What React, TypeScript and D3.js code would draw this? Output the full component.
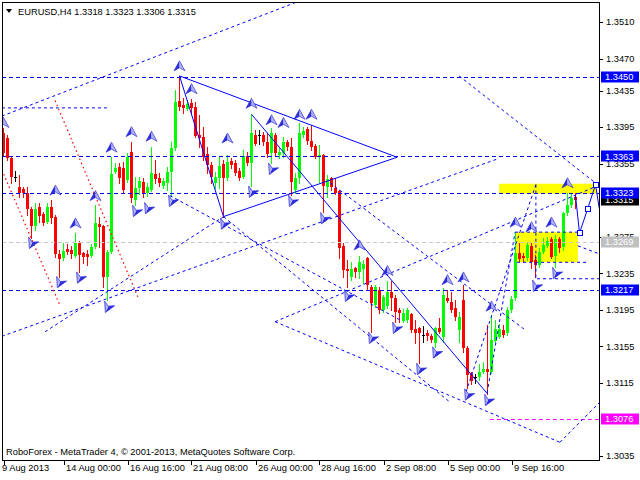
import React from "react";
import * as d3 from "d3";

// ---- OHLC data (EURUSD H4) ----
const OPEN = [1.3388,1.3383,1.3361,1.3340,1.3329,1.3327,1.3323,1.3305,1.3287,1.3307,
1.3300,1.3291,1.3308,1.3297,1.3256,1.3252,1.3262,1.3260,1.3254,1.3268,
1.3257,1.3256,1.3254,1.3264,1.3289,1.3287,1.3231,1.3258,1.3346,1.3351,
1.3350,1.3337,1.3368,1.3315,1.3328,1.3335,1.3323,1.3326,1.3344,1.3339,
1.3330,1.3334,1.3346,1.3372,1.3424,1.3419,1.3415,1.3421,1.3417,1.3386,
1.3384,1.3365,1.3353,1.3334,1.3339,1.3355,1.3339,1.3358,1.3356,1.3347,
1.3340,1.3363,1.3356,1.3386,1.3386,1.3386,1.3379,1.3367,1.3386,1.3364,
1.3367,1.3379,1.3373,1.3326,1.3339,1.3386,1.3393,1.3380,1.3374,1.3362,
1.3364,1.3329,1.3339,1.3328,1.3325,1.3265,1.3240,1.3231,1.3241,1.3236,
1.3240,1.3252,1.3220,1.3200,1.3217,1.3195,1.3199,1.3215,1.3208,1.3195,
1.3183,1.3184,1.3190,1.3174,1.3175,1.3167,1.3170,1.3166,1.3159,1.3175,
1.3165,1.3208,1.3204,1.3197,1.3173,1.3206,1.3153,1.3125,1.3121,1.3121,
1.3127,1.3130,1.3127,1.3161,1.3165,1.3173,1.3170,1.3195,1.3208,1.3257,
1.3254,1.3252,1.3265,1.3249,1.3244,1.3258,1.3265,1.3272,1.3254,1.3273,
1.3264,1.3301,1.3310,1.3318];
const HIGH = [1.3394,1.3386,1.3362,1.3347,1.3343,1.3329,1.3329,1.3308,1.3312,1.3312,
1.3302,1.3312,1.3315,1.3299,1.3260,1.3268,1.3267,1.3265,1.3279,1.3270,
1.3258,1.3260,1.3267,1.3310,1.3297,1.3288,1.3260,1.3362,1.3356,1.3356,
1.3357,1.3367,1.3379,1.3340,1.3340,1.3339,1.3334,1.3373,1.3359,1.3345,
1.3339,1.3351,1.3379,1.3436,1.3451,1.3427,1.3425,1.3426,1.3422,1.3408,
1.3395,1.3373,1.3357,1.3346,1.3362,1.3359,1.3364,1.3361,1.3359,1.3350,
1.3370,1.3368,1.3409,1.3392,1.3392,1.3390,1.3388,1.3394,1.3388,1.3372,
1.3384,1.3381,1.3383,1.3345,1.3399,1.3395,1.3395,1.3397,1.3377,1.3375,
1.3366,1.3343,1.3340,1.3339,1.3326,1.3268,1.3249,1.3247,1.3242,1.3254,
1.3249,1.3253,1.3222,1.3222,1.3220,1.3211,1.3226,1.3226,1.3211,1.3197,
1.3196,1.3197,1.3192,1.3184,1.3176,1.3177,1.3173,1.3168,1.3176,1.3186,
1.3219,1.3217,1.3215,1.3206,1.3193,1.3222,1.3155,1.3127,1.3125,1.3136,
1.3138,1.3178,1.3189,1.3184,1.3180,1.3178,1.3198,1.3210,1.3280,1.3268,
1.3257,1.3269,1.3268,1.3255,1.3263,1.3274,1.3275,1.3275,1.3277,1.3275,
1.3302,1.3323,1.3323,1.3323];
const LOW = [1.3364,1.3359,1.3334,1.3336,1.3318,1.3319,1.3299,1.3274,1.3282,1.3291,
1.3288,1.3290,1.3290,1.3253,1.3231,1.3249,1.3256,1.3252,1.3253,1.3236,
1.3246,1.3244,1.3253,1.3263,1.3264,1.3220,1.3206,1.3257,1.3345,1.3334,
1.3323,1.3335,1.3313,1.3310,1.3322,1.3318,1.3320,1.3325,1.3334,1.3331,
1.3328,1.3326,1.3320,1.3370,1.3414,1.3410,1.3414,1.3410,1.3384,1.3373,
1.3359,1.3345,1.3334,1.3328,1.3328,1.3297,1.3337,1.3350,1.3343,1.3337,
1.3339,1.3353,1.3331,1.3375,1.3377,1.3375,1.3362,1.3356,1.3364,1.3361,
1.3362,1.3370,1.3321,1.3323,1.3334,1.3384,1.3377,1.3370,1.3361,1.3335,
1.3302,1.3318,1.3326,1.3322,1.3252,1.3231,1.3220,1.3228,1.3231,1.3230,
1.3224,1.3217,1.3171,1.3198,1.3192,1.3193,1.3197,1.3195,1.3182,1.3182,
1.3182,1.3182,1.3171,1.3159,1.3137,1.3160,1.3162,1.3160,1.3154,1.3170,
1.3160,1.3204,1.3193,1.3184,1.3160,1.3149,1.3109,1.3114,1.3115,1.3118,
1.3126,1.3103,1.3126,1.3160,1.3164,1.3165,1.3167,1.3193,1.3206,1.3248,
1.3247,1.3249,1.3241,1.3231,1.3242,1.3257,1.3264,1.3252,1.3242,1.3258,
1.3260,1.3299,1.3308,1.3306];
const CLOSE = [1.3367,1.3361,1.3340,1.3340,1.3323,1.3323,1.3305,1.3287,1.3305,1.3298,
1.3290,1.3308,1.3296,1.3256,1.3251,1.3259,1.3258,1.3256,1.3268,1.3255,
1.3253,1.3253,1.3264,1.3290,1.3286,1.3231,1.3258,1.3344,1.3350,1.3339,
1.3326,1.3362,1.3317,1.3328,1.3336,1.3323,1.3329,1.3345,1.3338,1.3334,
1.3336,1.3346,1.3372,1.3422,1.3417,1.3416,1.3420,1.3416,1.3385,1.3383,
1.3362,1.3353,1.3340,1.3340,1.3352,1.3339,1.3357,1.3353,1.3345,1.3339,
1.3363,1.3356,1.3388,1.3376,1.3386,1.3379,1.3366,1.3388,1.3367,1.3368,
1.3379,1.3373,1.3335,1.3339,1.3388,1.3391,1.3380,1.3373,1.3362,1.3364,
1.3331,1.3338,1.3329,1.3323,1.3263,1.3239,1.3238,1.3240,1.3236,1.3247,
1.3245,1.3222,1.3203,1.3220,1.3195,1.3209,1.3215,1.3208,1.3193,1.3192,
1.3192,1.3195,1.3173,1.3170,1.3170,1.3167,1.3166,1.3162,1.3175,1.3171,
1.3211,1.3205,1.3195,1.3187,1.3187,1.3153,1.3124,1.3117,1.3121,1.3127,
1.3130,1.3127,1.3162,1.3174,1.3174,1.3167,1.3195,1.3207,1.3257,1.3251,
1.3252,1.3266,1.3247,1.3244,1.3258,1.3266,1.3270,1.3253,1.3273,1.3263,
1.3301,1.3310,1.3317,1.3315];

// ---- axes ----
const TIME_TICK_BARS = [0, 15, 31, 47, 63, 79, 95, 111, 127];
const TIME_LABELS = ["9 Aug 2013", "14 Aug 00:00", "16 Aug 16:00", "21 Aug 08:00", "26 Aug 00:00", "28 Aug 16:00", "2 Sep 08:00", "5 Sep 00:00", "9 Sep 16:00"];
const PRICE_TICKS = [1.3510, 1.3470, 1.3435, 1.3395, 1.3355, 1.3275, 1.3235, 1.3195, 1.3155, 1.3115, 1.3035];

// ---- horizontal levels ----
const BLUE_LEVELS = [1.3450, 1.3363, 1.3323, 1.3217];
const GRAY_LEVEL = 1.3269;
const MAGENTA_LEVEL = 1.3076;
const MAGENTA_START_BAR = 121.6;
const BID = 1.3315;

// ---- drawn objects: [bar1, price1, bar2, price2] ----
const SOLID_LINES = [
  [44, 1.3451, 98.4, 1.3362],
  [44, 1.3451, 55, 1.3297],
  [55, 1.3297, 98.4, 1.3362],
  [62, 1.3409, 121, 1.3103],
];
const DASHED_LINES = [
  [-0.4, 1.3407, 73.4, 1.3532],
  [-0.4, 1.3416, 26.1, 1.3416],
  [-0.4, 1.3166, 123.4, 1.3360],
  [10.4, 1.3171, 55, 1.3297],
  [55, 1.3297, 111.6, 1.3094],
  [41.6, 1.3320, 99.1, 1.3184],
  [81.6, 1.3334, 130.4, 1.3173],
  [113.9, 1.3451, 149.1, 1.3330],
  [67.9, 1.3182, 148.1, 1.3330],
  [67.9, 1.3182, 139.1, 1.3050],
  [139.1, 1.3050, 149.1, 1.3094],
  [115.6, 1.3105, 133.1, 1.3332],
  [120.9, 1.3104, 127.9, 1.3280],
  [143.6, 1.3265, 149.1, 1.3256],
  [127.9, 1.3280, 144.1, 1.3280],
  [128.4, 1.3247, 145.9, 1.3247],
  [133.4, 1.3229, 149.1, 1.3229],
  [133.1, 1.3332, 133.1, 1.3229],
];
const RED_LINES = [
  [12.9, 1.3424, 33.6, 1.3209],
  [-0.4, 1.3348, 14.1, 1.3200],
];
// rectangles: [barFrom, barTo, priceTop, priceBottom]
const YELLOW_BOXES = [
  [123.9, 148.1, 1.3333, 1.3322],
  [127.9, 143.6, 1.3280, 1.3247],
];
const FORECAST = [
  [143, 1.3320],
  [144, 1.3279],
  [146, 1.3305],
  [148, 1.3332],
  [150, 1.3277],
];
const UP_FRACTALS = [
  [0, 1.3400], [13, 1.3326], [18, 1.3290], [23, 1.3320], [27, 1.3373], [32, 1.3390],
  [37, 1.3385], [44, 1.3462], [47, 1.3437], [56, 1.3383], [62, 1.3421], [67, 1.3403],
  [70, 1.3400], [74, 1.3409], [77, 1.3409], [89, 1.3266], [96, 1.3238], [111, 1.3228],
  [115, 1.3231], [122, 1.3199], [128, 1.3291], [132, 1.3286], [137, 1.3291], [141, 1.3334],
];
const DOWN_FRACTALS = [
  [7, 1.3267], [14, 1.3224], [19, 1.3229], [26, 1.3197], [33, 1.3302], [36, 1.3305],
  [42, 1.3313], [55, 1.3288], [62, 1.3323], [67, 1.3348], [72, 1.3313], [80, 1.3294],
  [86, 1.3209], [92, 1.3163], [98, 1.3174], [104, 1.3129], [108, 1.3147], [116, 1.3101],
  [121, 1.3095], [133, 1.3220], [138, 1.3234],
];

const FONT = "'Liberation Sans', Arial, sans-serif";
const FS = 9.3;

function Arrow({ cx, cy, rot }: { cx: number; cy: number; rot: number }) {
  return (
    <g transform={`translate(${cx},${cy}) rotate(${rot})`}>
      <path d="M0,-5 L-5.5,5 L0,2 Z" fill="#2c2ce0" />
      <path d="M0,-5 L5.5,5 L0,2 Z" fill="#b0b0f4" />
      <path d="M0,-5 L-5.5,5 L0,2 L5.5,5 Z" fill="none" stroke="#2020d0" strokeWidth={0.6} />
    </g>
  );
}

export default function App() {
  const W = 640, H = 480;
  const L = 2, T = 2, R = 600, B = 461;
  const x = d3.scaleLinear().domain([0, 143]).range([3.5, 575.5]);
  const y = d3.scaleLinear().domain([1.3035, 1.3510]).range([456, 22]);
  const ry = (p: number) => Math.round(y(p)) + 0.5;

  const line = d3.line<number[]>().x((d) => x(d[0])).y((d) => y(d[1]));

  const candles = OPEN.map((o, i) => {
    const c = CLOSE[i], h = HIGH[i], l = LOW[i];
    const cx = x(i);
    const color = c > o ? "#00ff00" : c < o ? "#ff0000" : "#000000";
    const top = Math.round(y(Math.max(o, c)));
    const bot = Math.round(y(Math.min(o, c)));
    return (
      <g key={i}>
        <line x1={cx} x2={cx} y1={Math.round(y(h))} y2={Math.round(y(l)) + 1} stroke={color} strokeWidth={1} />
        {c === o ? (
          <line x1={cx - 1.5} x2={cx + 1.5} y1={top + 0.5} y2={top + 0.5} stroke={color} strokeWidth={1} />
        ) : (
          <rect x={cx - 1.5} y={top} width={3} height={Math.max(1, bot - top)} fill={color} />
        )}
      </g>
    );
  });

  const labelBox = (p: number, fill: string, key: string) => {
    const yc = y(p);
    return (
      <g key={key}>
        <rect x={601} y={Math.round(yc) - 5.5} width={38} height={11} fill={fill} />
        <text x={605} y={yc} dy="0.35em" fontFamily={FONT} fontSize={FS} fill="#ffffff">
          {p.toFixed(4)}
        </text>
      </g>
    );
  };

  return (
    <svg width={W} height={H} style={{ position: "absolute", left: 0, top: 0, background: "#fff" }}>
      <defs>
        <clipPath id="plot">
          <rect x={L} y={T} width={R - L} height={B - T} />
        </clipPath>
      </defs>
      <rect x={0} y={0} width={W} height={H} fill="#ffffff" />
      <g clipPath="url(#plot)">
        {YELLOW_BOXES.map((b, i) => (
          <rect key={i} x={x(b[0])} y={y(b[2])} width={x(b[1]) - x(b[0])} height={y(b[3]) - y(b[2])} fill="#ffff00" />
        ))}
        {candles}
        <line x1={L} x2={R} y1={ry(GRAY_LEVEL)} y2={ry(GRAY_LEVEL)} stroke="#c8c8c8" strokeDasharray="4,3" />
        {BLUE_LEVELS.map((p, i) => (
          <line key={i} x1={L} x2={R} y1={ry(p)} y2={ry(p)} stroke="#0000ff" strokeDasharray="4,3" />
        ))}
        <line x1={x(MAGENTA_START_BAR)} x2={R} y1={ry(MAGENTA_LEVEL)} y2={ry(MAGENTA_LEVEL)} stroke="#ff00ff" strokeDasharray="4,3" />
        {DASHED_LINES.map((l, i) => (
          <line key={i} x1={x(l[0])} y1={y(l[1])} x2={x(l[2])} y2={y(l[3])} stroke="#0000ff" strokeWidth={1} strokeDasharray="3,3" />
        ))}
        {SOLID_LINES.map((l, i) => (
          <line key={i} x1={x(l[0])} y1={y(l[1])} x2={x(l[2])} y2={y(l[3])} stroke="#0000ff" strokeWidth={1} />
        ))}
        {RED_LINES.map((l, i) => (
          <line key={i} x1={x(l[0])} y1={y(l[1])} x2={x(l[2])} y2={y(l[3])} stroke="#ff0000" strokeWidth={1.2} strokeDasharray="1.5,3" />
        ))}
        {UP_FRACTALS.map((f, i) => (
          <Arrow key={"u" + i} cx={x(f[0])} cy={y(f[1])} rot={0} />
        ))}
        {DOWN_FRACTALS.map((f, i) => (
          <Arrow key={"d" + i} cx={x(f[0])} cy={y(f[1])} rot={205} />
        ))}
        <path d={line(FORECAST) || ""} fill="none" stroke="#0000ff" strokeWidth={1} />
        {FORECAST.slice(1, 4).map((f, i) => (
          <rect key={i} x={Math.round(x(f[0])) - 2.5} y={Math.round(y(f[1])) - 2.5} width={5} height={5} fill="#ffffff" stroke="#0000ff" strokeWidth={1} />
        ))}
      </g>

      {/* frame */}
      <rect x={L + 0.5} y={T + 0.5} width={R - L - 1} height={B - T - 1} fill="none" stroke="#000" strokeWidth={1} />

      {/* price axis */}
      {PRICE_TICKS.map((p, i) => (
        <g key={i}>
          <line x1={R} x2={R + 3} y1={ry(p)} y2={ry(p)} stroke="#000" />
          <text x={606} y={y(p)} dy="0.35em" fontFamily={FONT} fontSize={FS} fill="#000">
            {p.toFixed(4)}
          </text>
        </g>
      ))}
      {labelBox(BID, "#000000", "bid")}
      {labelBox(GRAY_LEVEL, "#c0c0c0", "gray")}
      {BLUE_LEVELS.map((p, i) => labelBox(p, "#0000ff", "b" + i))}
      {labelBox(MAGENTA_LEVEL, "#ff00ff", "mag")}

      {/* time axis */}
      {TIME_TICK_BARS.map((b, i) => {
        const tx = Math.round(x(b)) + 0.5;
        return (
          <g key={i}>
            <line x1={tx} x2={tx} y1={B} y2={B + 4} stroke="#000" />
            <text x={i === 0 ? 2 : tx + 1.5} y={471} fontFamily={FONT} fontSize={FS} fill="#000">
              {TIME_LABELS[i]}
            </text>
          </g>
        );
      })}

      {/* title */}
      <path d="M6,9 L12,9 L9,13 Z" fill="#000" />
      <text x={18} y={14.5} fontFamily={FONT} fontSize={FS} fill="#000">
        EURUSD,H4  1.3318 1.3323 1.3306 1.3315
      </text>
      <text x={6} y={455} fontFamily={FONT} fontSize={FS} fill="#000">
        RoboForex - MetaTrader 4, © 2001-2013, MetaQuotes Software Corp.
      </text>
    </svg>
  );
}
